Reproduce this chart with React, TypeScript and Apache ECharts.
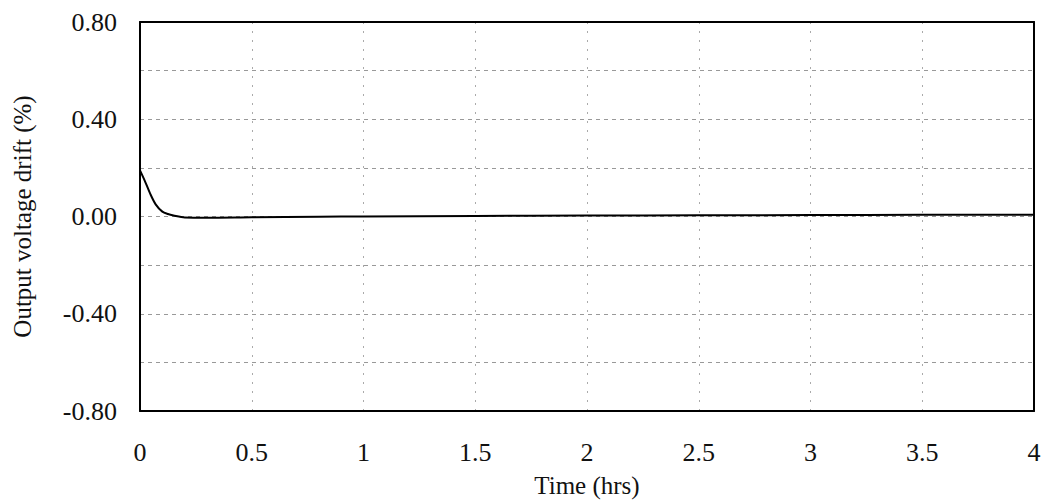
import React, { useEffect, useRef } from "react";
import * as echarts from "echarts";

const timeHrs = [0, 0.02, 0.045, 0.07, 0.1, 0.125, 0.15, 0.2, 0.3, 0.5, 0.8, 1.0, 1.5, 2.0, 2.5, 3.0, 3.5, 4.0];
const driftPct = [0.19, 0.15, 0.095, 0.05, 0.02, 0.01, 0.004, -0.004, -0.005, -0.003, -0.001, 0.0, 0.002, 0.004, 0.005, 0.006, 0.007, 0.007];

const xTitle = "Time (hrs)";
const yTitle = "Output voltage drift (%)";
const FONT = "'Liberation Serif', 'DejaVu Serif', serif";

const frameAxis = {
  type: "value",
  axisLine: { show: true, onZero: false, lineStyle: { color: "#000", width: 2 } },
  axisTick: { show: false },
  axisLabel: { show: false },
  splitLine: { show: false },
};

export default function App() {
  const ref = useRef<HTMLDivElement>(null);
  useEffect(() => {
    if (!ref.current) return;
    const chart = echarts.init(ref.current, undefined, { renderer: "svg" });
    chart.setOption({
      animation: false,
      textStyle: { fontFamily: FONT },
      grid: { left: 140, right: 11, top: 22, bottom: 91.5, show: false },
      xAxis: [
        {
          type: "value",
          min: 0,
          max: 4,
          interval: 0.5,
          name: xTitle,
          nameLocation: "middle",
          nameGap: 62,
          nameTextStyle: { fontFamily: FONT, fontSize: 25, color: "#111" },
          axisLine: { show: true, onZero: false, lineStyle: { color: "#000", width: 2 } },
          axisTick: { show: false },
          axisLabel: { fontFamily: FONT, fontSize: 26, color: "#111", margin: 28 },
          splitLine: { show: true, lineStyle: { color: "#aaa", width: 1, type: [2, 7] } },
        },
        { ...frameAxis, min: 0, max: 4, position: "top" },
      ],
      yAxis: [
        {
          type: "value",
          min: -0.8,
          max: 0.8,
          interval: 0.2,
          name: yTitle,
          nameLocation: "middle",
          nameGap: 105,
          nameRotate: 90,
          nameTextStyle: { fontFamily: FONT, fontSize: 25, color: "#111" },
          axisLine: { show: true, onZero: false, lineStyle: { color: "#000", width: 2 } },
          axisTick: { show: false },
          axisLabel: {
            fontFamily: FONT,
            fontSize: 26,
            color: "#111",
            margin: 23,
            formatter: (v: number) => (Math.abs(Math.round(v * 10)) % 4 === 0 ? v.toFixed(2) : ""),
          },
          splitLine: { show: true, lineStyle: { color: "#999", width: 1, type: [4, 4] } },
        },
        { ...frameAxis, min: -0.8, max: 0.8, position: "right" },
      ],
      series: [
        {
          type: "line",
          data: timeHrs.map((t, i) => [t, driftPct[i]]),
          smooth: 0.3,
          showSymbol: false,
          lineStyle: { color: "#000", width: 2 },
        },
      ],
    });
    return () => chart.dispose();
  }, []);
  return <div ref={ref} style={{ width: 1045, height: 503, position: "absolute", left: 0, top: 0 }} />;
}
